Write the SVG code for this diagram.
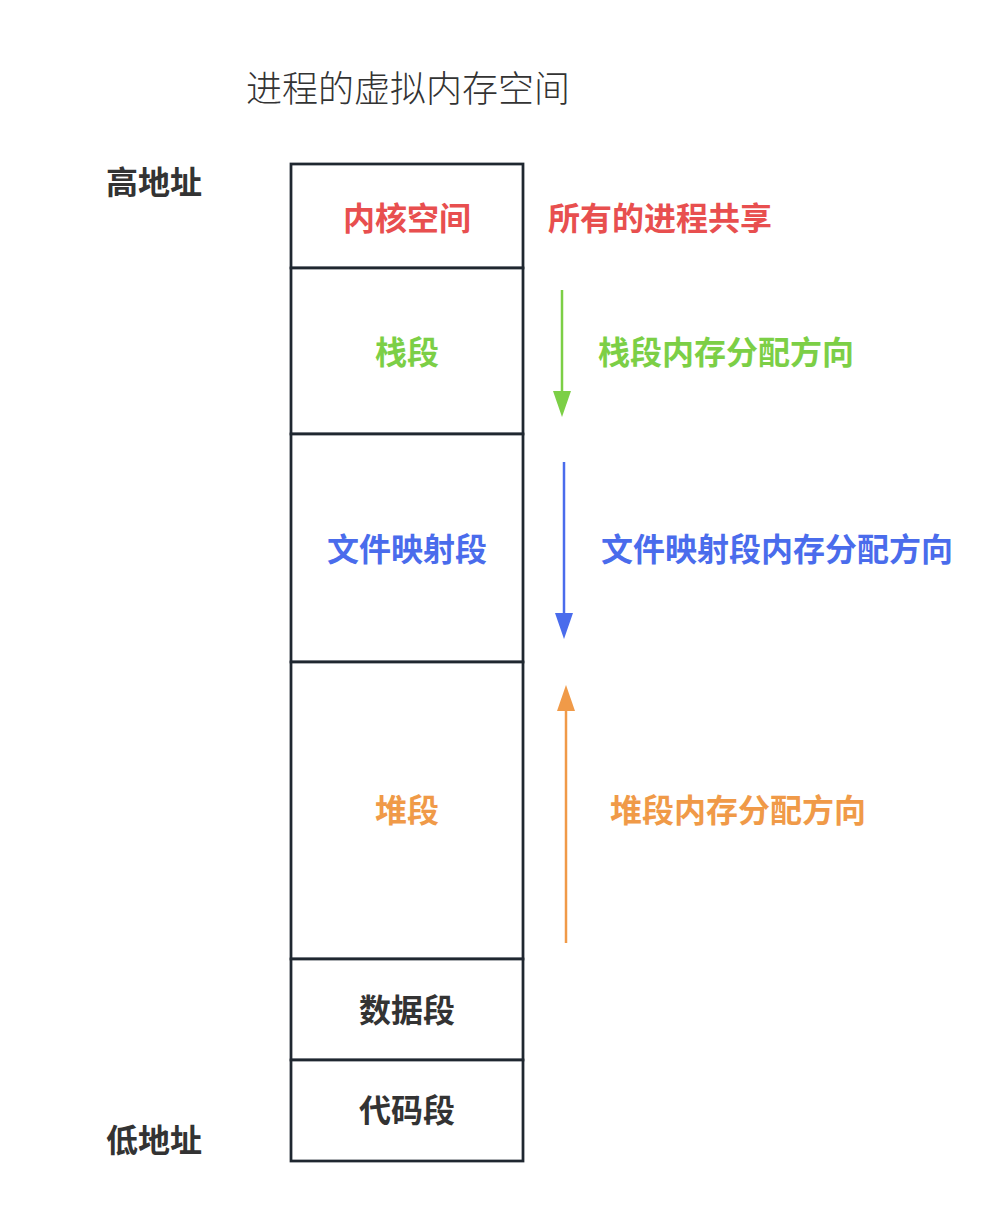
<svg xmlns="http://www.w3.org/2000/svg" width="1008" height="1228" viewBox="0 0 1008 1228">
<style>
.t{font-family:"Noto Sans CJK SC","Noto Sans",sans-serif;font-weight:700;font-size:32px;dominant-baseline:central}
.m{text-anchor:middle}
.seg{fill:#fff;stroke:#1f2730;stroke-width:2.75}
</style>
<rect width="1008" height="1228" fill="#fff"/>
<text x="408" y="86" font-family="'Noto Sans CJK SC',sans-serif" font-size="36" font-weight="300" fill="#333" text-anchor="middle" dominant-baseline="central">进程的虚拟内存空间</text>
<text class="t" x="154" y="180" fill="#333" text-anchor="middle">高地址</text>
<text class="t" x="154" y="1138" fill="#333" text-anchor="middle">低地址</text>
<g id="kernel"><rect class="seg" x="291" y="164" width="232" height="104"/><text class="t m" x="407" y="216" fill="#e84f4f">内核空间</text></g>
<g id="stack"><rect class="seg" x="291" y="268" width="232" height="166"/><text class="t m" x="407" y="350" fill="#7ccf46">栈段</text></g>
<g id="mmap"><rect class="seg" x="291" y="434" width="232" height="228"/><text class="t m" x="407" y="547" fill="#4a6cec">文件映射段</text></g>
<g id="heap"><rect class="seg" x="291" y="662" width="232" height="297"/><text class="t m" x="407" y="808" fill="#f09a48">堆段</text></g>
<g id="data"><rect class="seg" x="291" y="959" width="232" height="101"/><text class="t m" x="407" y="1008" fill="#333">数据段</text></g>
<g id="text"><rect class="seg" x="291" y="1060" width="232" height="101"/><text class="t m" x="407" y="1108" fill="#333">代码段</text></g>
<g id="labels">
<text class="t" x="548" y="216" fill="#e84f4f">所有的进程共享</text>
<text class="t" x="598" y="350" fill="#7ccf46">栈段内存分配方向</text>
<text class="t" x="601" y="547" fill="#4a6cec">文件映射段内存分配方向</text>
<text class="t" x="610" y="808" fill="#f09a48">堆段内存分配方向</text>
</g>
<g id="connectors">
<line x1="562" y1="290" x2="562" y2="394" stroke="#7ccf46" stroke-width="2.5"/>
<path d="M553,391 L571,391 L562,417 Z" fill="#7ccf46"/>
<line x1="564" y1="462" x2="564" y2="616" stroke="#4a6cec" stroke-width="2.5"/>
<path d="M555,613 L573,613 L564,639 Z" fill="#4a6cec"/>
<line x1="566" y1="943" x2="566" y2="708" stroke="#f09a48" stroke-width="2.5"/>
<path d="M557,711 L575,711 L566,685 Z" fill="#f09a48"/>
</g>
</svg>
